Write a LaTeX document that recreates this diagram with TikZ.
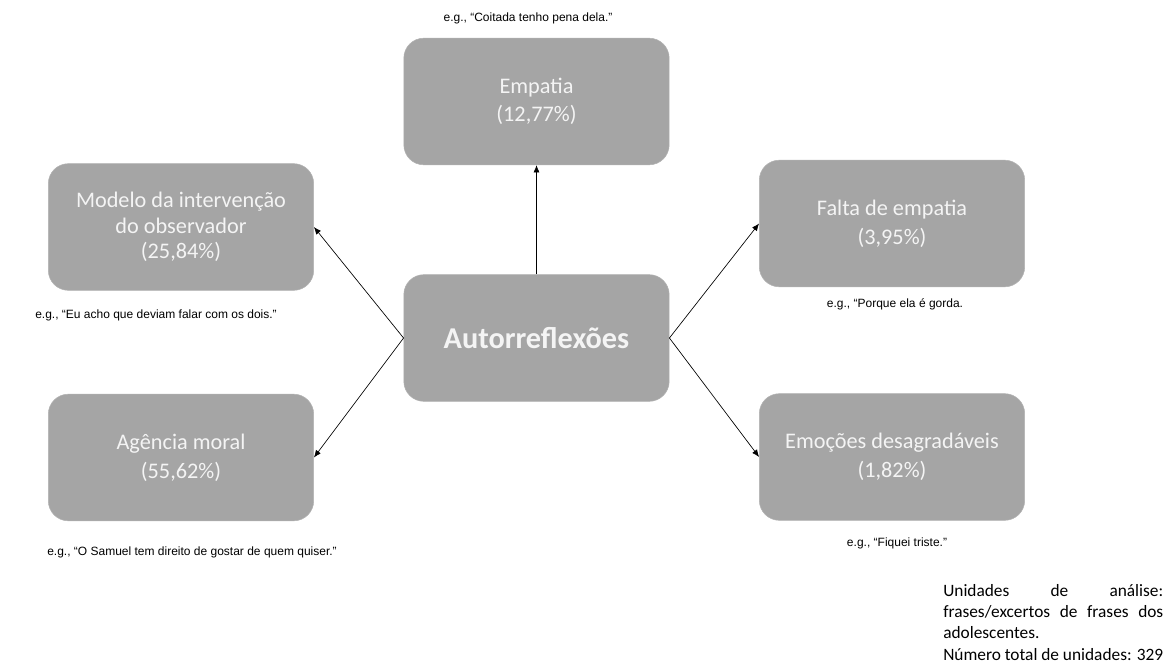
\documentclass[tikz,border=0pt]{standalone}
\usepackage{fontspec}
\setmainfont{Carlito}
\newfontfamily\arialfont{Liberation Sans}
\usetikzlibrary{arrows.meta}
\definecolor{boxgray}{HTML}{A5A5A5}
\definecolor{boxtext}{HTML}{F4F4F4}
\newcommand{\textnota}{Unidades de análise: frases/excertos de frases dos adolescentes.\par
Número total de unidades: 329}

\begin{document}
\begin{tikzpicture}[
    x=0.75pt,y=-0.75pt,
    box/.style={fill=boxgray,draw=boxgray!85!white,line width=0.4pt,rounded corners=15pt,
        minimum width=199pt,minimum height=95pt,align=center,text=boxtext,
        font=\fontsize{16.7}{21.5}\selectfont},
    tallbox/.style={box,font=\fontsize{16.7}{19}\selectfont},
    core/.style={box,font=\fontsize{22.7}{26}\selectfont\bfseries},
    example/.style={font=\arialfont\fontsize{9}{10}\selectfont,inner sep=0pt},
    link/.style={-{Latex[length=5.5pt,width=4.5pt]},line width=0.5pt}
]
\useasboundingbox (0,0) rectangle (1170,663);

\node[core] (auto) at (536.5,338) {Autorreflexões};
\node[box] (empatia) at (536.5,101.5) {Empatia\\(12,77\%)};
\node[tallbox] (modelo) at (181,227) {Modelo da intervenção\\do observador\\(25,84\%)};
\node[box] (falta) at (892,223.5) {Falta de empatia\\(3,95\%)};
\node[box] (agencia) at (181,457.5) {Agência moral\\(55,62\%)};
\node[box] (emocoes) at (892,457) {Emoções desagradáveis\\(1,82\%)};

\draw[link] (auto.north) -- (empatia.south);
\draw[link] (auto.west) -- (modelo.east);
\draw[link] (auto.west) -- (agencia.east);
\draw[link] (auto.east) -- (falta.west);
\draw[link] (auto.east) -- (emocoes.west);

% exemplos
\node[example] (exempatia) at (528,18) {e.g., “Coitada tenho pena dela.”};
\node[example] (exmodelo) at (156,315) {e.g., “Eu acho que deviam falar com os dois.”};
\node[example] (exfalta) at (895,304) {e.g., “Porque ela é gorda.};
\node[example] (exagencia) at (192,552) {e.g., “O Samuel tem direito de gostar de quem quiser.”};
\node[example] (exemocoes) at (897,543) {e.g., “Fiquei triste.”};

\node[anchor=north west,inner sep=0pt,text width=165pt,align=justify,
    font=\fontsize{13}{16}\selectfont] (nota) at (943,584) {\textnota};
\end{tikzpicture}
\end{document}
